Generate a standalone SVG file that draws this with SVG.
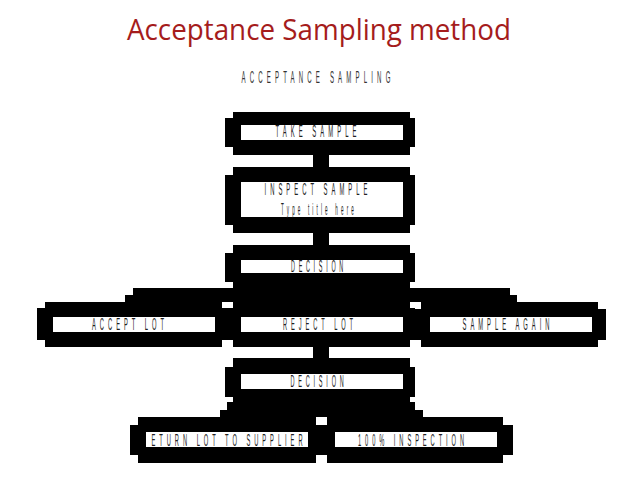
<svg xmlns="http://www.w3.org/2000/svg" width="638" height="479" viewBox="0 0 638 479">
<style>
.box{fill:#000;}
.in{fill:#fff;}
.lbl{font-family:"Liberation Sans",Arial,sans-serif;font-size:16px;fill:#222;text-anchor:middle;letter-spacing:11px;white-space:pre;}
.title{font-family:"Open Sans","Liberation Sans",sans-serif;font-size:30px;fill:#a51c1c;}
</style>
<rect width="638" height="479" fill="#fff"/>
<text class="title" x="127" y="40" textLength="384" lengthAdjust="spacingAndGlyphs">Acceptance Sampling method</text>
<text class="lbl" x="318" y="83" style="fill:#333" textLength="153" lengthAdjust="spacingAndGlyphs">ACCEPTANCE SAMPLING</text>

<g id="connectors">
<rect class="box" x="313" y="155" width="16" height="12"/>
<rect class="box" x="313" y="233" width="16" height="12"/>
<polygon class="box" points="133,288 510,288 510,295 517,295 517,302 125,302 125,295 133,295"/>
<rect class="box" x="313" y="347" width="16" height="11"/>
<polygon class="box" points="227,402 415,402 415,410 423,410 423,417 220,417 220,410 227,410"/>
</g>

<g id="take-sample">
<polygon class="box" points="233,112 410,112 410,118 415,118 415,147 410,147 410,155 233,155 233,147 225,147 225,118 233,118"/>
<rect class="in" x="241" y="125" width="162" height="15"/>
<text class="lbl" x="318" y="137" textLength="85" lengthAdjust="spacingAndGlyphs">TAKE SAMPLE</text>
</g>

<g id="inspect-sample">
<polygon class="box" points="233,167 410,167 410,175 415,175 415,225 410,225 410,233 233,233 233,225 225,225 225,175 233,175"/>
<rect class="in" x="241" y="182" width="162" height="35"/>
<text class="lbl" x="318" y="195" textLength="107" lengthAdjust="spacingAndGlyphs">INSPECT SAMPLE</text>
<text class="lbl" x="319" y="215" textLength="76" lengthAdjust="spacingAndGlyphs">Type title here</text>
</g>

<g id="decision-1">
<polygon class="box" points="233,245 410,245 410,253 415,253 415,282 410,282 410,290 233,290 233,282 225,282 225,253 233,253"/>
<rect class="in" x="241" y="260" width="162" height="13"/>
<text class="lbl" x="319" y="272" textLength="56" lengthAdjust="spacingAndGlyphs">DECISION</text>
</g>

<g id="accept-lot">
<polygon class="box" points="45,302 222,302 222,308 230,308 230,340 222,340 222,347 45,347 45,340 37,340 37,308 45,308"/>
<rect class="in" x="53" y="317" width="162" height="15"/>
<text class="lbl" x="130" y="330" textLength="76" lengthAdjust="spacingAndGlyphs">ACCEPT LOT</text>
</g>

<g id="reject-lot">
<polygon class="box" points="233,302 410,302 410,308 415,308 415,340 410,340 410,347 233,347 233,340 225,340 225,308 233,308"/>
<rect class="in" x="241" y="317" width="162" height="15"/>
<text class="lbl" x="320" y="330" textLength="74" lengthAdjust="spacingAndGlyphs">REJECT LOT</text>
</g>

<g id="sample-again">
<polygon class="box" points="421,302 598,302 598,309 606,309 606,340 598,340 598,347 421,347 421,340 413,340 413,309 421,309"/>
<rect class="in" x="430" y="317" width="162" height="15"/>
<text class="lbl" x="508" y="330" textLength="91" lengthAdjust="spacingAndGlyphs">SAMPLE AGAIN</text>
</g>

<g id="decision-2">
<polygon class="box" points="233,358 410,358 410,367 415,367 415,397 410,397 410,404 233,404 233,397 225,397 225,367 233,367"/>
<rect class="in" x="241" y="374" width="162" height="15"/>
<text class="lbl" x="319" y="387" textLength="57" lengthAdjust="spacingAndGlyphs">DECISION</text>
</g>

<g id="return-lot">
<polygon class="box" points="138,417 316,417 316,425 324,425 324,455 316,455 316,463 138,463 138,455 130,455 130,425 138,425"/>
<rect class="in" x="146" y="432" width="162" height="15"/>
<text class="lbl" x="229" y="446" textLength="155" lengthAdjust="spacingAndGlyphs">ETURN LOT TO SUPPLIER</text>
</g>

<g id="full-inspection">
<polygon class="box" points="327,417 503,417 503,425 513,425 513,455 503,455 503,463 327,463 327,455 319,455 319,425 327,425"/>
<rect class="in" x="335" y="432" width="162" height="15"/>
<text class="lbl" x="413" y="446" textLength="110" lengthAdjust="spacingAndGlyphs">100% INSPECTION</text>
</g>
</svg>
